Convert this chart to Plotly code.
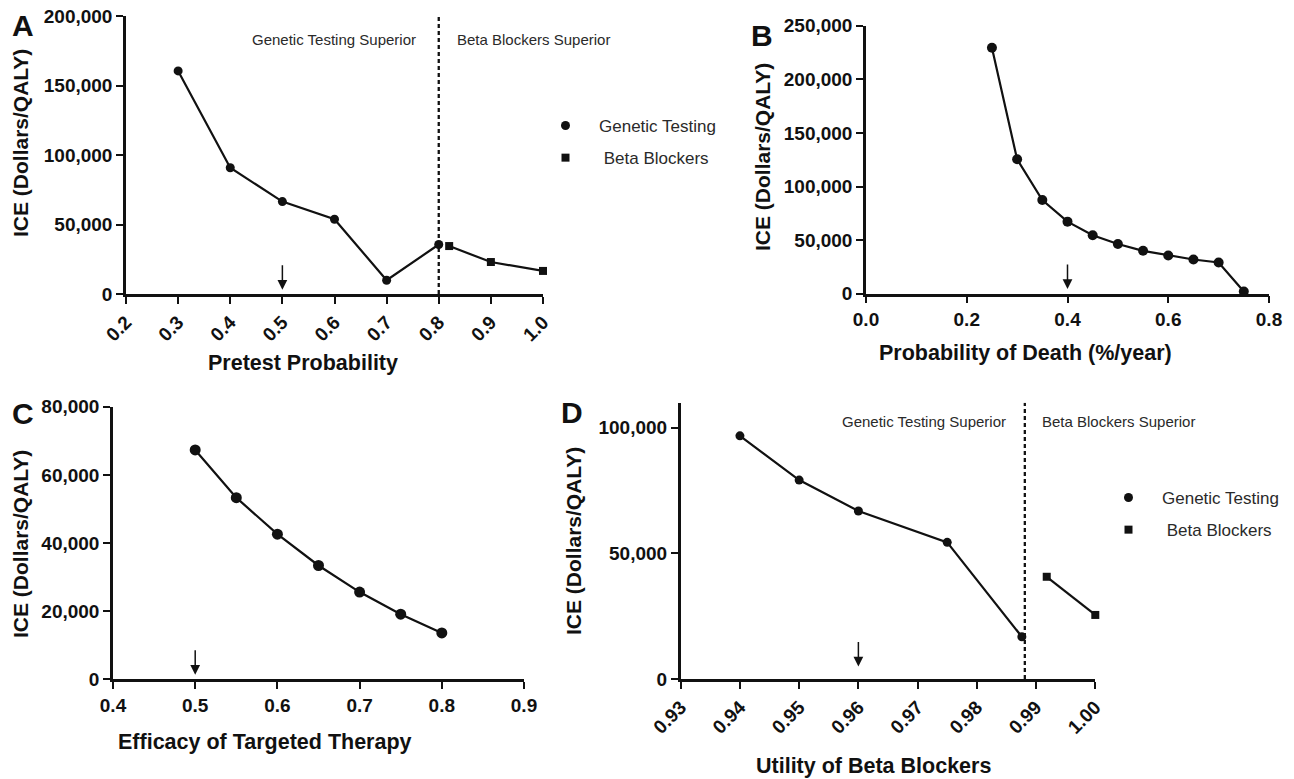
import plotly.graph_objects as go

W, H = 1294, 779

# ---------------- data ----------------
# Panel A: Pretest probability
a_gen_x = [0.3, 0.4, 0.5, 0.6, 0.7, 0.8]
a_gen_y = [160500, 90800, 66500, 53800, 9900, 35600]
a_bb_x = [0.82, 0.9, 1.0]
a_bb_y = [34500, 23000, 16600]
a_xticks = [0.2, 0.3, 0.4, 0.5, 0.6, 0.7, 0.8, 0.9, 1.0]
a_yticks = [0, 50000, 100000, 150000, 200000]
a_threshold = 0.8
a_base = 0.5

# Panel B: Probability of death
b_x = [0.25, 0.30, 0.35, 0.40, 0.45, 0.50, 0.55, 0.60, 0.65, 0.70, 0.75]
b_y = [229500, 125400, 87400, 67200, 54600, 46300, 40000, 35600, 31900, 29100, 2000]
b_xticks = [0.0, 0.2, 0.4, 0.6, 0.8]
b_yticks = [0, 50000, 100000, 150000, 200000, 250000]
b_base = 0.4

# Panel C: Efficacy of targeted therapy
c_x = [0.5, 0.55, 0.6, 0.65, 0.7, 0.75, 0.8]
c_y = [67300, 53300, 42600, 33400, 25600, 19100, 13600]
c_xticks = [0.4, 0.5, 0.6, 0.7, 0.8, 0.9]
c_yticks = [0, 20000, 40000, 60000, 80000]
c_base = 0.5

# Panel D: Utility of beta blockers
d_gen_x = [0.94, 0.95, 0.96, 0.975, 0.9876]
d_gen_y = [96800, 79200, 66900, 54400, 16800]
d_bb_x = [0.9918, 1.0]
d_bb_y = [40700, 25500]
d_xticks = [0.93, 0.94, 0.95, 0.96, 0.97, 0.98, 0.99, 1.00]
d_yticks = [0, 50000, 100000]
d_threshold = 0.9881
d_base = 0.96

# ---------------- helpers ----------------
def px_x(p):
    return p / W

def px_y(p):
    return 1 - p / H

FONT = "Liberation Sans, Arial, sans-serif"
BLACK = "#111111"
GREY = "#2a2a2a"

fig = go.Figure()

def line_trace(x, y, xa, ya, symbol, size):
    fig.add_trace(go.Scatter(
        x=x, y=y, xaxis=xa, yaxis=ya, mode="lines+markers",
        line=dict(color=BLACK, width=2.2),
        marker=dict(symbol=symbol, size=size, color=BLACK),
        showlegend=False, cliponaxis=False, hoverinfo="x+y"))

line_trace(a_gen_x, a_gen_y, "x", "y", "circle", 9)
line_trace(a_bb_x, a_bb_y, "x", "y", "square", 8)
line_trace(b_x, b_y, "x2", "y2", "circle", 10)
line_trace(c_x, c_y, "x3", "y3", "circle", 11)
line_trace(d_gen_x, d_gen_y, "x4", "y4", "circle", 9)
line_trace(d_bb_x, d_bb_y, "x4", "y4", "square", 8)

# legend entries (marker only)
for lg, xa, ya in [("legend", "x", "y"), ("legend2", "x4", "y4")]:
    fig.add_trace(go.Scatter(x=[None], y=[None], xaxis=xa, yaxis=ya, mode="markers",
                             marker=dict(symbol="circle", size=9, color=BLACK),
                             name="Genetic Testing", legend=lg, legendgroup=lg + "g"))
    fig.add_trace(go.Scatter(x=[None], y=[None], xaxis=xa, yaxis=ya, mode="markers",
                             marker=dict(symbol="square", size=8, color=BLACK),
                             name=" Beta Blockers", legend=lg, legendgroup=lg + "b"))

tickfont = dict(family=FONT, size=19, color=BLACK, weight="bold")

def axis(domain, rng, ticks, fmt, anchor, angle=0):
    return dict(domain=domain, range=rng, tickvals=ticks, tickformat=fmt,
                anchor=anchor, showline=True, linewidth=2.5, linecolor=BLACK,
                ticks="outside", ticklen=7, tickwidth=2, tickcolor=BLACK,
                showgrid=False, zeroline=False, tickfont=tickfont, tickangle=angle,
                automargin=False, fixedrange=True)

layout = dict(
    width=W, height=H, margin=dict(l=0, r=0, t=0, b=0, autoexpand=False),
    paper_bgcolor="white", plot_bgcolor="white",
    font=dict(family=FONT, color=BLACK),
    xaxis=axis([px_x(126), px_x(543)], [0.2, 1.0], a_xticks, ".1f", "y", -45),
    yaxis=axis([px_y(294), px_y(16)], [0, 200000], a_yticks, ",d", "x"),
    xaxis2=axis([px_x(866), px_x(1269)], [0, 0.8], b_xticks, ".1f", "y2"),
    yaxis2=axis([px_y(293.7), px_y(25.7)], [0, 250000], b_yticks, ",d", "x2"),
    xaxis3=axis([px_x(113), px_x(524)], [0.4, 0.9], c_xticks, ".1f", "y3"),
    yaxis3=axis([px_y(679.3), px_y(406.7)], [0, 80000], c_yticks, ",d", "x3"),
    xaxis4=axis([px_x(680.7), px_x(1095.3)], [0.93, 1.0], d_xticks, ".2f", "y4", -45),
    yaxis4=axis([px_y(679), px_y(402.7)], [0, 110000], d_yticks, ",d", "x4"),
    legend=dict(x=px_x(532), y=px_y(108), xanchor="left", yanchor="top",
                font=dict(family=FONT, size=17, color=GREY),
                itemwidth=57, tracegroupgap=7, traceorder="grouped",
                bgcolor="rgba(0,0,0,0)"),
    legend2=dict(x=px_x(1095), y=px_y(480), xanchor="left", yanchor="top",
                 font=dict(family=FONT, size=17, color=GREY),
                 itemwidth=57, tracegroupgap=7, traceorder="grouped",
                 bgcolor="rgba(0,0,0,0)"),
)
fig.update_layout(**layout)

# threshold dashed lines
dash_style = dict(color=BLACK, width=2.3, dash="4px,3px")
fig.add_shape(type="line", xref="x", yref="y", x0=a_threshold, x1=a_threshold,
              y0=0, y1=200000, line=dash_style)
fig.add_shape(type="line", xref="x4", yref="y4", x0=d_threshold, x1=d_threshold,
              y0=0, y1=110000, line=dash_style)

ann = []

def text(x, y, s, size, bold=False, angle=0, color=BLACK):
    ann.append(dict(x=px_x(x), y=px_y(y), xref="paper", yref="paper", text=s,
                    showarrow=False, textangle=angle, xanchor="center", yanchor="middle",
                    font=dict(family=FONT, size=size, color=color,
                              weight="bold" if bold else "normal")))

# panel letters
text(23, 25, "A", 30, True)
text(762, 35, "B", 30, True)
text(23, 413, "C", 30, True)
text(572, 412, "D", 30, True)

# region labels
text(334, 39, "Genetic Testing Superior", 15, color=GREY)
text(533, 39, "Beta Blockers Superior", 15, color=GREY)
text(924, 421.7, "Genetic Testing Superior", 15, color=GREY)
text(1118, 421.7, "Beta Blockers Superior", 15, color=GREY)

# axis titles
text(303, 363, "Pretest Probability", 21.5, True)
text(1025, 353, "Probability of Death (%/year)", 21.5, True)
text(265, 742, "Efficacy of Targeted Therapy", 21.5, True)
text(873, 766, "Utility of Beta Blockers", 21.5, True)
text(20, 143, "ICE (Dollars/QALY)", 21, True, -90)
text(762, 157, "ICE (Dollars/QALY)", 21, True, -90)
text(20, 544, "ICE (Dollars/QALY)", 21, True, -90)
text(573, 541, "ICE (Dollars/QALY)", 21, True, -90)

# base-case arrows
def arrow(xa, ya, xv, yv):
    ann.append(dict(x=xv, y=yv, xref=xa, yref=ya, ax=0, ay=-26, text="",
                    showarrow=True, arrowhead=2, arrowsize=1.3, arrowwidth=1.5,
                    arrowcolor=BLACK))

arrow("x", "y", a_base, 3000)
arrow("x2", "y2", b_base, 4500)
arrow("x3", "y3", c_base, 1300)
arrow("x4", "y4", d_base, 5000)

fig.update_layout(annotations=ann)
fig.write_html("out.html", config={"displayModeBar": False},
               post_script="document.body.style.margin='0';")
